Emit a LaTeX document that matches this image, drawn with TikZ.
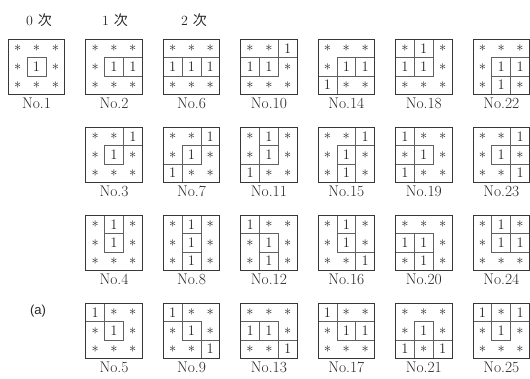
\documentclass[tikz,border=0pt]{standalone}
\usepackage{fontspec}
\newfontfamily\cjk{Noto Sans CJK JP}
\newfontfamily\asans{Liberation Sans}
\colorlet{outergray}{black!78}
\colorlet{innergray}{black!62}
\tikzset{
  cellline/.style={draw=innergray, line width=0.7pt},
  onecell/.style={inner sep=0pt, font=\fontsize{14.5}{16}\selectfont, text=black!85},
  starcell/.style={inner sep=0pt, font=\fontsize{14.5}{16}\selectfont, text=black!85},
  gridbox/.style={draw=outergray, line width=0.9pt, minimum width=56.5pt, minimum height=55pt, inner sep=0pt},
  numlabel/.style={inner sep=0pt, font=\fontsize{15.5}{17}\selectfont, text=black!85},
  headlabel/.style={inner sep=0pt, font=\fontsize{14}{16}\selectfont, text=black!85}
}
\newcommand\pgrid[4]{%
  \pgfmathsetmacro\gx{8.3+77.45*#1}%
  \pgfmathsetmacro\gy{39.3+88*#2}%
  \foreach \v [count=\k from 0] in {#4} {%
    \pgfmathtruncatemacro\rr{int(\k/3)}%
    \pgfmathtruncatemacro\cc{mod(\k,3)}%
    \pgfmathsetmacro\cxa{\gx+\cc*18.83}%
    \pgfmathsetmacro\cya{\gy+\rr*18.33}%
    \pgfmathsetmacro\cx{\cxa+9.415}%
    \pgfmathsetmacro\cy{\cya+9.165}%
    \ifnum\v=1
      \draw[cellline] (\cxa,\cya) rectangle ++(18.83,18.33);
      \node[onecell] (g#3c\k) at (\cx,\cy) {1};
    \else
      \node[starcell] (g#3c\k) at (\cx,\cy) {$\ast$};
    \fi
  }%
  \node[gridbox] (g#3) at (\gx+28.25,\gy+27.5) {};
  \node[numlabel] (n#3) at (\gx+28.25,\gy+64.3) {No.#3};
}
\begin{document}
\begin{tikzpicture}[x=1pt,y=-1pt]
\useasboundingbox (0,0) rectangle (530,379);
\node[headlabel] (h0) at (39,20) {0\hspace{5pt}{\cjk 次}};
\node[headlabel] (h1) at (115,20) {1\hspace{5pt}{\cjk 次}};
\node[headlabel] (h2) at (194,20) {2\hspace{5pt}{\cjk 次}};
\node[inner sep=0pt, font=\asans\fontsize{13}{15}\selectfont, text=black!85] (lbla) at (38,311) {(a)};
\pgrid{0}{0}{1}{0,0,0,0,1,0,0,0,0}
\pgrid{1}{0}{2}{0,0,0,0,1,1,0,0,0}
\pgrid{1}{1}{3}{0,0,1,0,1,0,0,0,0}
\pgrid{1}{2}{4}{0,1,0,0,1,0,0,0,0}
\pgrid{1}{3}{5}{1,0,0,0,1,0,0,0,0}
\pgrid{2}{0}{6}{0,0,0,1,1,1,0,0,0}
\pgrid{2}{1}{7}{0,0,1,0,1,0,1,0,0}
\pgrid{2}{2}{8}{0,1,0,0,1,0,0,1,0}
\pgrid{2}{3}{9}{1,0,0,0,1,0,0,0,1}
\pgrid{3}{0}{10}{0,0,1,1,1,0,0,0,0}
\pgrid{3}{1}{11}{0,1,0,0,1,0,1,0,0}
\pgrid{3}{2}{12}{1,0,0,0,1,0,0,1,0}
\pgrid{3}{3}{13}{0,0,0,1,1,0,0,0,1}
\pgrid{4}{0}{14}{0,0,0,0,1,1,1,0,0}
\pgrid{4}{1}{15}{0,0,1,0,1,0,0,1,0}
\pgrid{4}{2}{16}{0,1,0,0,1,0,0,0,1}
\pgrid{4}{3}{17}{1,0,0,0,1,1,0,0,0}
\pgrid{5}{0}{18}{0,1,0,1,1,0,0,0,0}
\pgrid{5}{1}{19}{1,0,0,0,1,0,1,0,0}
\pgrid{5}{2}{20}{0,0,0,1,1,0,0,1,0}
\pgrid{5}{3}{21}{0,0,0,0,1,0,1,0,1}
\pgrid{6}{0}{22}{0,0,0,0,1,1,0,1,0}
\pgrid{6}{1}{23}{0,0,1,0,1,0,0,0,1}
\pgrid{6}{2}{24}{0,1,0,0,1,1,0,0,0}
\pgrid{6}{3}{25}{1,0,1,0,1,0,0,0,0}
\end{tikzpicture}
\end{document}
